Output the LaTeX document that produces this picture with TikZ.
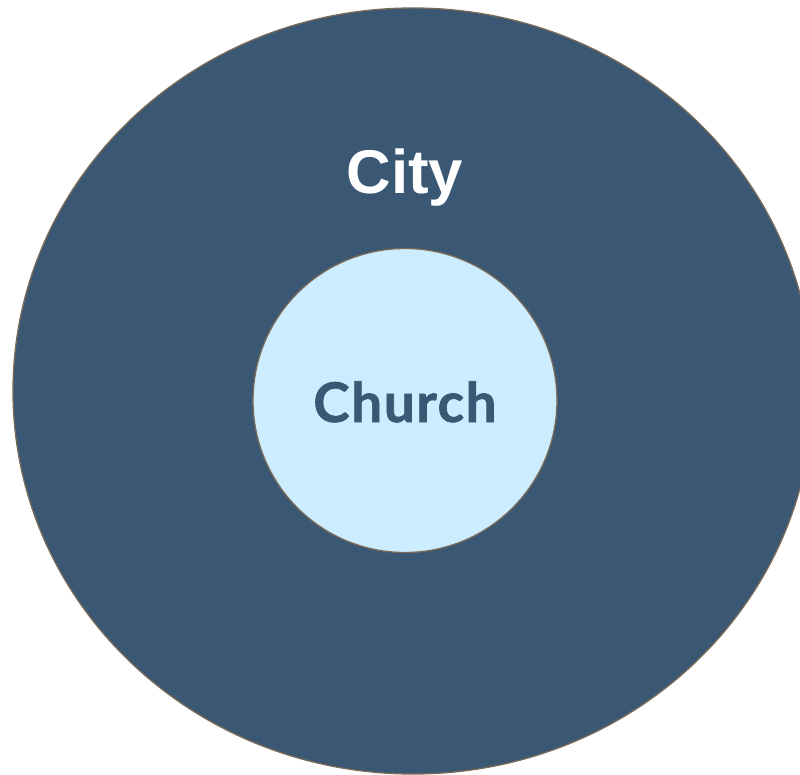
\documentclass[tikz,border=0pt]{standalone}
\usepackage{fontspec}
\usetikzlibrary{shapes.geometric}
\setmainfont{Liberation Sans}
\newfontfamily\churchfont[LetterSpace=3,FakeBold=1.2]{Lato}
\definecolor{cityblue}{HTML}{3A5773}
\definecolor{churchblue}{HTML}{CCECFF}
\definecolor{rimcol}{HTML}{7A6A58}
\begin{document}
\begin{tikzpicture}[x=1bp,y=-1bp,
  ring/.style={draw=rimcol,line width=1.3bp}]
\useasboundingbox (0,0) rectangle (800,775);
\node[ring,fill=cityblue,ellipse,minimum width=800bp,minimum height=766bp,inner sep=0pt] (city) at (413,391) {};
\node[ring,fill=churchblue,circle,minimum size=304bp,inner sep=0pt] (church) at (405,400.5) {};
\node[anchor=base,text=white,font=\fontsize{62}{62}\selectfont\bfseries] (citylabel) at (405,193) {City};
\node[anchor=base,text=cityblue,font=\churchfont\fontsize{55}{55}\selectfont\bfseries] (churchlabel) at (405,422) {Church};
\end{tikzpicture}
\end{document}
